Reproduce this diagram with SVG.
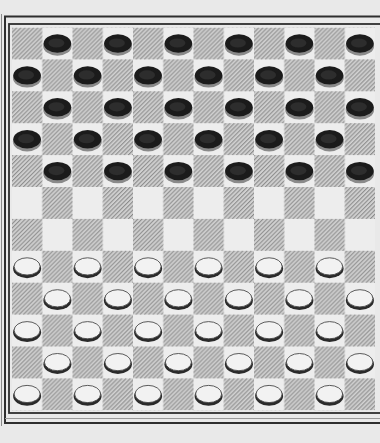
<svg xmlns="http://www.w3.org/2000/svg" xmlns:xlink="http://www.w3.org/1999/xlink" width="380" height="443" viewBox="0 0 380 443">
  <style>
    .frame { fill: none; stroke: #2e2e2e; }
    .faint { fill: none; stroke: #8a8a8a; stroke-width: 1; }
  </style>
  <defs>
    <pattern id="hatch" patternUnits="userSpaceOnUse" width="3" height="3" patternTransform="rotate(45)">
      <rect width="3" height="3" fill="#d2d2d2"/>
      <line x1="0.5" y1="0" x2="0.5" y2="3" stroke="#858585" stroke-width="1"/>
    </pattern>
    <pattern id="board" patternUnits="userSpaceOnUse" x="12" y="27.5" width="60.5" height="63.8">
      <rect width="60.5" height="63.8" fill="#ededed"/>
      <rect x="0" y="0" width="30.25" height="31.9" fill="url(#hatch)"/>
      <rect x="30.25" y="31.9" width="30.25" height="31.9" fill="url(#hatch)"/>
    </pattern>
    <g id="dk">
      <ellipse cx="0" cy="2.4" rx="14.2" ry="9.8" fill="#8a8a8a"/>
      <ellipse cx="0" cy="0" rx="13.8" ry="9.2" fill="#1b1b1b"/>
      <ellipse cx="-1" cy="-0.5" rx="8" ry="4.6" fill="#2d2d2d"/>
    </g>
    <g id="wt">
      <ellipse cx="0" cy="1.7" rx="14" ry="9.7" fill="#2a2a2a"/>
      <ellipse cx="0" cy="-0.4" rx="13" ry="8.6" fill="#f2f2f2" stroke="#4a4a4a" stroke-width="0.9"/>
    </g>
  </defs>

  <rect width="380" height="443" fill="#e9e9e9"/>

  <g id="frame">
    <line class="faint" x1="1.5" y1="14" x2="1.5" y2="426"/>
    <rect class="frame" x="5" y="16.5" width="390" height="406.5" stroke-width="2"/>
    <rect class="frame" x="9" y="24" width="390" height="389" stroke-width="1.8"/>
    <line x1="5" y1="418.5" x2="385" y2="418.5" stroke="#9a9a9a" stroke-width="1"/>
  </g>

  <g id="board-squares">
    <rect x="12" y="27.5" width="363" height="382.8" fill="url(#board)"/>
  </g>

  <g id="dark-pieces">
    <use id="d1-2" href="#dk" x="57.4" y="43.5"/>
    <use id="d1-4" href="#dk" x="117.9" y="43.5"/>
    <use id="d1-6" href="#dk" x="178.4" y="43.5"/>
    <use id="d1-8" href="#dk" x="238.9" y="43.5"/>
    <use id="d1-10" href="#dk" x="299.4" y="43.5"/>
    <use id="d1-12" href="#dk" x="359.9" y="43.5"/>

    <use id="d2-1" href="#dk" x="27.1" y="75.4"/>
    <use id="d2-3" href="#dk" x="87.6" y="75.4"/>
    <use id="d2-5" href="#dk" x="148.1" y="75.4"/>
    <use id="d2-7" href="#dk" x="208.6" y="75.4"/>
    <use id="d2-9" href="#dk" x="269.1" y="75.4"/>
    <use id="d2-11" href="#dk" x="329.6" y="75.4"/>

    <use id="d3-2" href="#dk" x="57.4" y="107.3"/>
    <use id="d3-4" href="#dk" x="117.9" y="107.3"/>
    <use id="d3-6" href="#dk" x="178.4" y="107.3"/>
    <use id="d3-8" href="#dk" x="238.9" y="107.3"/>
    <use id="d3-10" href="#dk" x="299.4" y="107.3"/>
    <use id="d3-12" href="#dk" x="359.9" y="107.3"/>

    <use id="d4-1" href="#dk" x="27.1" y="139.2"/>
    <use id="d4-3" href="#dk" x="87.6" y="139.2"/>
    <use id="d4-5" href="#dk" x="148.1" y="139.2"/>
    <use id="d4-7" href="#dk" x="208.6" y="139.2"/>
    <use id="d4-9" href="#dk" x="269.1" y="139.2"/>
    <use id="d4-11" href="#dk" x="329.6" y="139.2"/>

    <use id="d5-2" href="#dk" x="57.4" y="171.1"/>
    <use id="d5-4" href="#dk" x="117.9" y="171.1"/>
    <use id="d5-6" href="#dk" x="178.4" y="171.1"/>
    <use id="d5-8" href="#dk" x="238.9" y="171.1"/>
    <use id="d5-10" href="#dk" x="299.4" y="171.1"/>
    <use id="d5-12" href="#dk" x="359.9" y="171.1"/>
  </g>

  <g id="white-pieces">
    <use id="w8-1" href="#wt" x="27.1" y="266.8"/>
    <use id="w8-3" href="#wt" x="87.6" y="266.8"/>
    <use id="w8-5" href="#wt" x="148.1" y="266.8"/>
    <use id="w8-7" href="#wt" x="208.6" y="266.8"/>
    <use id="w8-9" href="#wt" x="269.1" y="266.8"/>
    <use id="w8-11" href="#wt" x="329.6" y="266.8"/>

    <use id="w9-2" href="#wt" x="57.4" y="298.7"/>
    <use id="w9-4" href="#wt" x="117.9" y="298.7"/>
    <use id="w9-6" href="#wt" x="178.4" y="298.7"/>
    <use id="w9-8" href="#wt" x="238.9" y="298.7"/>
    <use id="w9-10" href="#wt" x="299.4" y="298.7"/>
    <use id="w9-12" href="#wt" x="359.9" y="298.7"/>

    <use id="w10-1" href="#wt" x="27.1" y="330.6"/>
    <use id="w10-3" href="#wt" x="87.6" y="330.6"/>
    <use id="w10-5" href="#wt" x="148.1" y="330.6"/>
    <use id="w10-7" href="#wt" x="208.6" y="330.6"/>
    <use id="w10-9" href="#wt" x="269.1" y="330.6"/>
    <use id="w10-11" href="#wt" x="329.6" y="330.6"/>

    <use id="w11-2" href="#wt" x="57.4" y="362.5"/>
    <use id="w11-4" href="#wt" x="117.9" y="362.5"/>
    <use id="w11-6" href="#wt" x="178.4" y="362.5"/>
    <use id="w11-8" href="#wt" x="238.9" y="362.5"/>
    <use id="w11-10" href="#wt" x="299.4" y="362.5"/>
    <use id="w11-12" href="#wt" x="359.9" y="362.5"/>

    <use id="w12-1" href="#wt" x="27.1" y="394.4"/>
    <use id="w12-3" href="#wt" x="87.6" y="394.4"/>
    <use id="w12-5" href="#wt" x="148.1" y="394.4"/>
    <use id="w12-7" href="#wt" x="208.6" y="394.4"/>
    <use id="w12-9" href="#wt" x="269.1" y="394.4"/>
    <use id="w12-11" href="#wt" x="329.6" y="394.4"/>
  </g>
</svg>
